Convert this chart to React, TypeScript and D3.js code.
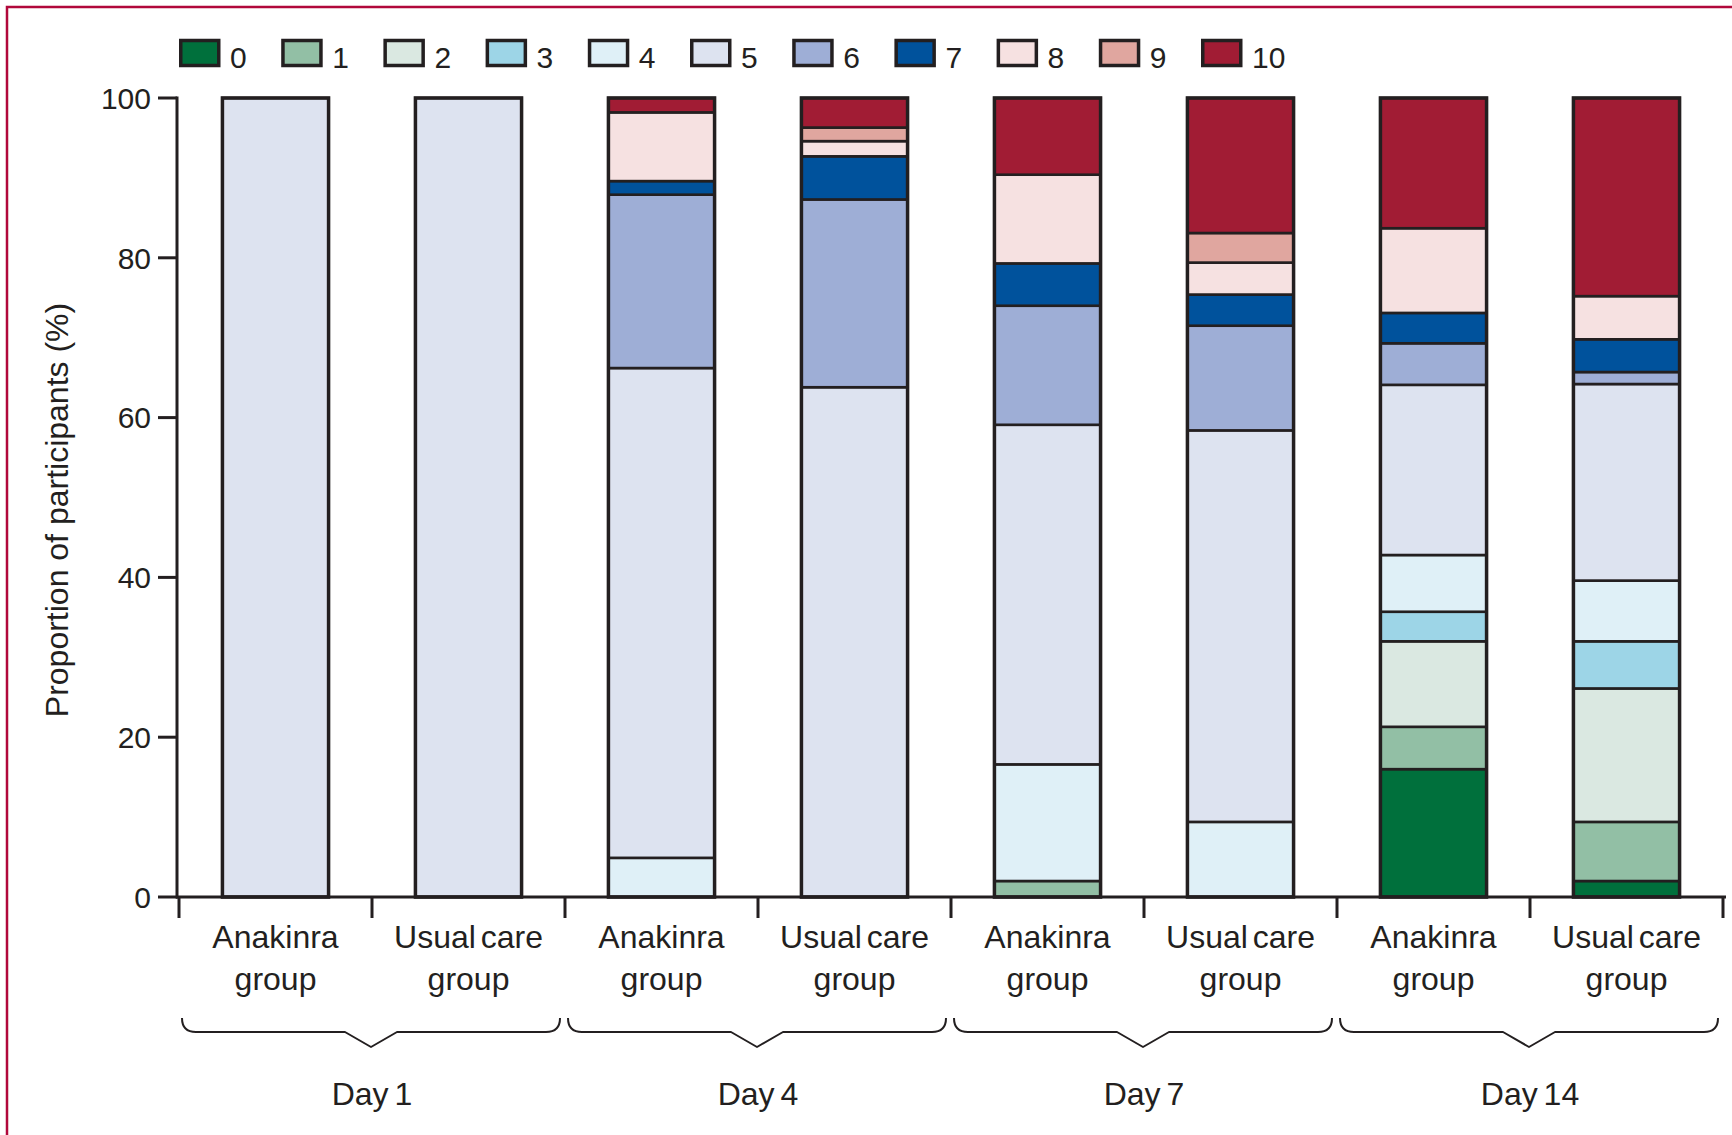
import React from 'react';
import * as d3 from 'd3';

// score categories (legend) and their fills
const scores = ['0', '1', '2', '3', '4', '5', '6', '7', '8', '9', '10'];
const scoreColors = [
  '#00703c', '#92bfa5', '#dae8e1', '#9dd5e7', '#dff0f7', '#dde3f0',
  '#9eaed6', '#00529c', '#f6e1e1', '#e0a69f', '#a11c34',
];

const days = ['Day 1', 'Day 4', 'Day 7', 'Day 14'];
const groups = ['Anakinra group', 'Usual care group'];

// proportion of participants (%) per score 0..10
const day1Anakinra = [0, 0, 0, 0, 0, 100, 0, 0, 0, 0, 0];
const day1Usual = [0, 0, 0, 0, 0, 100, 0, 0, 0, 0, 0];
const day4Anakinra = [0, 0, 0, 0, 4.9, 61.3, 21.7, 1.7, 8.6, 0, 1.8];
const day4Usual = [0, 0, 0, 0, 0, 63.8, 23.5, 5.4, 1.9, 1.7, 3.7];
const day7Anakinra = [0, 2.0, 0, 0, 14.6, 42.5, 14.9, 5.3, 11.1, 0, 9.6];
const day7Usual = [0, 0, 0, 0, 9.4, 49.0, 13.1, 3.9, 4.0, 3.7, 16.9];
const day14Anakinra = [16.0, 5.3, 10.7, 3.7, 7.1, 21.3, 5.2, 3.8, 10.6, 0, 16.3];
const day14Usual = [2.0, 7.4, 16.7, 5.9, 7.6, 24.6, 1.5, 4.1, 5.4, 0, 24.8];

const yTicks = [0, 20, 40, 60, 80, 100];

const bars = [
  { day: days[0], group: groups[0], values: day1Anakinra },
  { day: days[0], group: groups[1], values: day1Usual },
  { day: days[1], group: groups[0], values: day4Anakinra },
  { day: days[1], group: groups[1], values: day4Usual },
  { day: days[2], group: groups[0], values: day7Anakinra },
  { day: days[2], group: groups[1], values: day7Usual },
  { day: days[3], group: groups[0], values: day14Anakinra },
  { day: days[3], group: groups[1], values: day14Usual },
];

const W = 1732;
const H = 1135;
const ink = '#231f20';
const font = '"Liberation Sans", Arial, sans-serif';

const x = d3
  .scaleBand<number>()
  .domain(d3.range(bars.length))
  .range([179, 1723])
  .padding(0);
const y = d3.scaleLinear().domain([0, 100]).range([897, 98]);

const table = bars.map((b, i) => {
  const row: Record<string, number> = { idx: i };
  scores.forEach((s, k) => (row[s] = b.values[k]));
  return row;
});
const stacked = d3.stack<Record<string, number>>().keys(scores)(table);

const barW = x.bandwidth() * 0.55;

function bracePath(x0: number, x1: number) {
  const yTop = 1018;
  const yMid = 1032;
  const yTip = 1047;
  const cx = (x0 + x1) / 2;
  return (
    `M${x0},${yTop} Q${x0},${yMid} ${x0 + 14},${yMid} L${cx - 26},${yMid} ` +
    `L${cx},${yTip} L${cx + 26},${yMid} L${x1 - 14},${yMid} Q${x1},${yMid} ${x1},${yTop}`
  );
}

export default function App() {
  const step = 102.2;
  return (
    <svg
      width={W}
      height={H}
      style={{ position: 'absolute', left: 0, top: 0, background: '#fff' }}
      fontFamily={font}
    >
      <rect x={7} y={7} width={W + 50} height={H + 50} fill="none" stroke="#b1083b" strokeWidth={2.5} />

      {/* legend */}
      {scores.map((s, i) => (
        <g key={s} transform={`translate(${179 + i * step},0)`}>
          <rect x={1.75} y={40.5} width={38} height={25} fill={scoreColors[i]} stroke={ink} strokeWidth={3.5} />
          <text x={51} y={68} fontSize={30} fill={ink}>
            {s}
          </text>
        </g>
      ))}

      {/* y axis */}
      <line x1={177} x2={177} y1={y(100) - 1.5} y2={y(0) + 1.5} stroke={ink} strokeWidth={3} />
      {yTicks.map((t) => (
        <g key={t}>
          <line x1={158} x2={177} y1={y(t)} y2={y(t)} stroke={ink} strokeWidth={3} />
          <text x={151} y={y(t)} dy="0.36em" textAnchor="end" fontSize={30} fill={ink}>
            {t}
          </text>
        </g>
      ))}
      <text
        transform={`translate(68,510) rotate(-90)`}
        textAnchor="middle"
        fontSize={32}
        fill={ink}
      >
        Proportion of participants (%)
      </text>

      {/* stacked bars */}
      {bars.map((b, i) => {
        const x0 = x(i)! + (x.bandwidth() - barW) / 2;
        return (
          <g key={i}>
            {stacked.map((layer, k) => {
              const d = layer[i];
              if (d[1] - d[0] <= 0) return null;
              return (
                <rect
                  key={k}
                  x={x0}
                  width={barW}
                  y={y(d[1])}
                  height={y(d[0]) - y(d[1])}
                  fill={scoreColors[k]}
                  stroke={ink}
                  strokeWidth={2.6}
                />
              );
            })}
            <rect x={x0} width={barW} y={y(100)} height={y(0) - y(100)} fill="none" stroke={ink} strokeWidth={3.5} />
          </g>
        );
      })}

      {/* x axis */}
      <line x1={176} x2={1726} y1={y(0)} y2={y(0)} stroke={ink} strokeWidth={3} />
      {d3.range(bars.length + 1).map((i) => {
        const xx = i < bars.length ? x(i)! : x(bars.length - 1)! + x.bandwidth();
        return <line key={i} x1={xx} x2={xx} y1={y(0)} y2={918} stroke={ink} strokeWidth={3} />;
      })}
      {bars.map((b, i) => {
        const cx = x(i)! + x.bandwidth() / 2;
        const parts = b.group.split(' group');
        return (
          <text key={i} textAnchor="middle" fontSize={32} fill={ink} wordSpacing={-4}>
            <tspan x={cx} y={948}>
              {parts[0]}
            </tspan>
            <tspan x={cx} y={990}>
              group
            </tspan>
          </text>
        );
      })}

      {/* day braces */}
      {days.map((d, j) => {
        const start = x(j * 2)!;
        const end = start + x.bandwidth() * 2;
        return (
          <g key={d}>
            <path d={bracePath(start + 3, end - 5)} fill="none" stroke={ink} strokeWidth={2} strokeLinejoin="round" />
            <text x={(start + end) / 2} y={1105} textAnchor="middle" fontSize={32} fill={ink} wordSpacing={-3}>
              {d}
            </text>
          </g>
        );
      })}
    </svg>
  );
}
